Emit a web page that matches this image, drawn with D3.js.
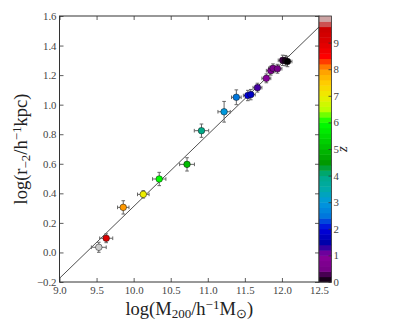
<!DOCTYPE html>
<html><head><meta charset="utf-8">
<script src="https://cdn.jsdelivr.net/npm/d3@7"></script>
<style>body{margin:0;background:#fff}text{font-family:"Liberation Serif",serif}</style>
</head><body><svg id="c" width="399" height="332"></svg>
<script>
// data
const logM    = [9.53, 9.63, 9.86, 10.13, 10.345, 10.72, 10.915, 11.22, 11.385, 11.54, 11.58, 11.67, 11.79, 11.85, 11.88, 11.94, 12.01, 12.045, 12.075];
const logR    = [0.035, 0.096, 0.305, 0.393, 0.497, 0.596, 0.824, 0.952, 1.05, 1.062, 1.068, 1.115, 1.178, 1.23, 1.246, 1.243, 1.300, 1.298, 1.292];
const redshift= [10, 9, 8, 7, 6, 5, 4, 3, 2.5, 2, 1.75, 1.25, 1.0, 0.75, 0.6, 0.5, 0.25, 0.1, 0];
const errM    = [0.10, 0.088, 0.077, 0.078, 0.09, 0.10, 0.097, 0.083, 0.065, 0.06, 0.06, 0.06, 0.06, 0.06, 0.06, 0.06, 0.06, 0.06, 0.06];
const errR    = [0.034, 0.03, 0.045, 0.025, 0.045, 0.045, 0.045, 0.07, 0.05, 0.035, 0.035, 0.03, 0.03, 0.03, 0.03, 0.03, 0.035, 0.035, 0.035];
const fitX    = [9.0, 12.5];
const fitY    = [-0.175, 1.526];
const xTicks  = [9.0, 9.5, 10.0, 10.5, 11.0, 11.5, 12.0, 12.5];
const yTicks  = [-0.2, 0.0, 0.2, 0.4, 0.6, 0.8, 1.0, 1.2, 1.4, 1.6];
const zTicks  = [0,1,2,3,4,5,6,7,8,9];
const zRange  = [0, 10];

// nipy_spectral colormap
const nipyR=[0,.4667,.5333,0,0,0,0,0,0,0,0,0,0,.7333,.9333,1,1,1,.8667,.8,.8];
const nipyG=[0,0,0,0,0,.4667,.6,.6667,.6667,.6,.7333,.8667,1,1,.9333,.8,.6,0,0,0,.8];
const nipyB=[0,.5333,.6,.6667,.8667,.8667,.8667,.6667,.5333,0,0,0,0,0,0,0,0,0,0,0,.8];
function nipy(t){
  t=Math.max(0,Math.min(1,t));
  const f=t*20, i=Math.min(19,Math.floor(f)), u=f-i;
  const c=a=>Math.round(255*(a[i]+(a[i+1]-a[i])*u));
  return `rgb(${c(nipyR)},${c(nipyG)},${c(nipyB)})`;
}

const svg=d3.select("#c");
const L=59.5,R=319,T=16,B=282;
const x=d3.scaleLinear().domain([9.0,12.5]).range([L,R]);
const y=d3.scaleLinear().domain([-0.2,1.6]).range([B,T]);
const zc=d3.scaleLinear().domain(zRange).range([0,1]);
const color=z=>nipy(zc(z));

svg.append("defs").append("clipPath").attr("id","clip").append("rect")
  .attr("x",L).attr("y",T).attr("width",R-L).attr("height",B-T);

// fit line
svg.append("line").attr("clip-path","url(#clip)")
  .attr("x1",x(fitX[0])).attr("y1",y(fitY[0])).attr("x2",x(fitX[1])).attr("y2",y(fitY[1]))
  .attr("stroke","#222").attr("stroke-width",0.8);

// error bars
const eb=svg.append("g").attr("stroke","#666").attr("stroke-width",1);
logM.forEach((m,i)=>{
  const cx=x(m), cy=y(logR[i]);
  const x0=x(m-errM[i]), x1=x(m+errM[i]), y0=y(logR[i]-errR[i]), y1=y(logR[i]+errR[i]);
  eb.append("line").attr("x1",x0).attr("x2",x1).attr("y1",cy).attr("y2",cy);
  eb.append("line").attr("x1",cx).attr("x2",cx).attr("y1",y0).attr("y2",y1);
  eb.append("line").attr("x1",x0).attr("x2",x0).attr("y1",cy-1.8).attr("y2",cy+1.8);
  eb.append("line").attr("x1",x1).attr("x2",x1).attr("y1",cy-1.8).attr("y2",cy+1.8);
  eb.append("line").attr("x1",cx-1.8).attr("x2",cx+1.8).attr("y1",y0).attr("y2",y0);
  eb.append("line").attr("x1",cx-1.8).attr("x2",cx+1.8).attr("y1",y1).attr("y2",y1);
});
// markers
svg.append("g").selectAll("circle").data(logM).join("circle")
  .attr("cx",d=>x(d)).attr("cy",(d,i)=>y(logR[i])).attr("r",3.3)
  .attr("fill",(d,i)=>color(redshift[i])).attr("stroke","#111").attr("stroke-width",0.5);

// axes
const fmt=d=>d3.format(".1f")(d).replace("-","\u2212");
function styleAxis(g,labels){
  g.select(".domain").remove();
  g.selectAll(".tick line").attr("stroke","#333").attr("stroke-width",0.8);
  g.selectAll("text").attr("fill","#444").style("font-size","10.8px").style("font-family","Liberation Serif, serif");
  if(!labels) g.selectAll("text").remove();
}
svg.append("g").attr("transform",`translate(0,${B})`)
  .call(d3.axisBottom(x).tickValues(xTicks).tickFormat(fmt).tickSize(-4).tickPadding(4))
  .call(g=>styleAxis(g,true));
svg.append("g").attr("transform",`translate(0,${T})`)
  .call(d3.axisTop(x).tickValues(xTicks).tickSize(-4)).call(g=>styleAxis(g,false));
svg.append("g").attr("transform",`translate(${L},0)`)
  .call(d3.axisLeft(y).tickValues(yTicks).tickFormat(fmt).tickSize(-4).tickPadding(3))
  .call(g=>styleAxis(g,true));
svg.append("g").attr("transform",`translate(${R},0)`)
  .call(d3.axisRight(y).tickValues(yTicks).tickSize(-4)).call(g=>styleAxis(g,false));
svg.append("rect").attr("x",L).attr("y",T).attr("width",R-L).attr("height",B-T)
  .attr("fill","none").attr("stroke","#333").attr("stroke-width",1);

// colorbar
const cbL=R, cbW=12.5;
const zy=d3.scaleLinear().domain(zRange).range([B,T]);
const nb=50, step=(zRange[1]-zRange[0])/nb;
const cb=svg.append("g");
d3.range(nb).forEach(k=>{
  const z0=zRange[0]+k*step;
  cb.append("rect").attr("x",cbL).attr("width",cbW)
    .attr("y",zy(z0+step)).attr("height",zy(z0)-zy(z0+step)+0.5)
    .attr("fill",color(z0+step/2));
});
cb.append("rect").attr("x",cbL).attr("y",T).attr("width",cbW).attr("height",B-T)
  .attr("fill","none").attr("stroke","#333").attr("stroke-width",0.8);
svg.append("g").attr("transform",`translate(${cbL+cbW},0)`)
  .call(d3.axisRight(zy).tickValues(zTicks).tickFormat(d3.format("d")).tickSize(-3).tickPadding(2))
  .call(g=>styleAxis(g,true));

// labels
const xl=svg.append("text").attr("x",(L+R)/2).attr("y",315).attr("text-anchor","middle")
  .attr("fill","#222").style("font-size","18.5px");
xl.append("tspan").text("log(M");
xl.append("tspan").attr("baseline-shift","-20%").style("font-size","13px").text("200");
xl.append("tspan").text("/h");
xl.append("tspan").attr("baseline-shift","45%").style("font-size","13px").text("\u22121");
xl.append("tspan").text("M");
xl.append("tspan").attr("baseline-shift","-20%").style("font-size","13px").text("\u2299");
xl.append("tspan").text(")");

const yl=svg.append("text").attr("transform",`translate(27,${(T+B)/2}) rotate(-90)`)
  .attr("text-anchor","middle").attr("fill","#222").style("font-size","18.5px");
yl.append("tspan").text("log(r");
yl.append("tspan").attr("baseline-shift","-20%").style("font-size","13px").text("\u22122");
yl.append("tspan").text("/h");
yl.append("tspan").attr("baseline-shift","45%").style("font-size","13px").text("\u22121");
yl.append("tspan").text("kpc)");

svg.append("text").attr("transform",`translate(347,${(T+B)/2}) rotate(-90)`)
  .attr("text-anchor","middle").attr("fill","#222").style("font-size","15px").style("font-style","italic").text("z");
</script></body></html>
